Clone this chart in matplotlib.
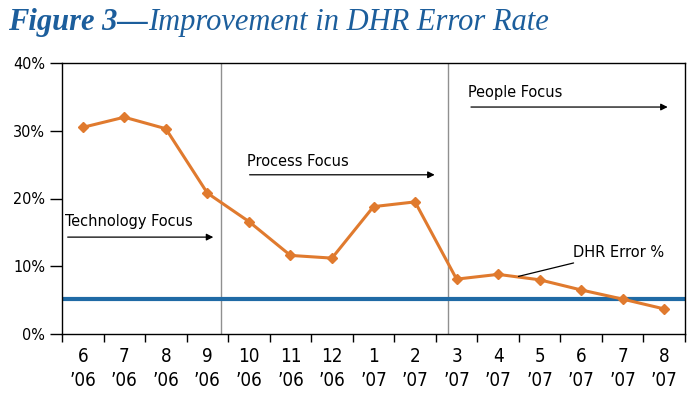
import matplotlib
matplotlib.use("Agg")
import matplotlib.pyplot as plt
from matplotlib import font_manager

months = ["6", "7", "8", "9", "10", "11", "12", "1", "2", "3", "4", "5", "6", "7", "8"]
years = ["’06"] * 7 + ["’07"] * 8
error_pct = [30.5, 32.0, 30.3, 20.8, 16.6, 11.6, 11.2, 18.8, 19.5, 8.1, 8.8, 8.0, 6.5, 5.15, 3.7]
target_pct = 5.2
yticks = [0, 10, 20, 30, 40]

orange = "#E07A2E"
blue = "#1F6AA5"
title_col = "#1C5E9C"

# condensed sans if the system has one, else Lato
cond = font_manager.FontProperties(family="DejaVu Sans", stretch="condensed")
path = font_manager.findfont(cond)
if "Condensed" in path:
    lab = dict(family="DejaVu Sans", stretch="condensed")
else:
    lab = dict(family="Lato")

fig = plt.figure(figsize=(6.91, 3.98), dpi=100)
ax = fig.add_axes([62 / 691, 64 / 398, 623 / 691, 271 / 398])

n = len(error_pct)
xs = list(range(n))
ax.axhline(target_pct, color=blue, lw=3, zorder=2)
ax.plot(xs, error_pct, color=orange, lw=2.2, marker="D", ms=5.5, zorder=3)

ax.set_xlim(-0.5, n - 0.5)
ax.set_ylim(0, 40)
ax.set_xticks([i - 0.5 for i in range(n + 1)])
ax.set_xticklabels([])
ax.set_xticks(xs, minor=True)
ax.set_xticklabels([m + "\n" + y for m, y in zip(months, years)], minor=True,
                   fontsize=13.5, linespacing=1.35, **lab)
ax.tick_params(axis="x", which="major", direction="out", length=6, width=1)
ax.tick_params(axis="x", which="minor", length=0, pad=9)
ax.set_yticks(yticks)
ax.set_yticklabels([f"{v}%" for v in yticks], fontsize=11.5, **lab)
ax.tick_params(axis="y", direction="out", length=9, width=1, pad=3)
for s in ax.spines.values():
    s.set_linewidth(1)

# phase dividers
ax.axvline(3.33, color="#909090", lw=1, zorder=1)
ax.axvline(8.8, color="#909090", lw=1, zorder=1)

arrow = dict(arrowstyle="-|>", color="black", lw=0.9, mutation_scale=10)
ax.text(-0.43, 16.6, "Technology Focus", fontsize=11.7, va="center", **lab)
ax.annotate("", xy=(3.21, 14.3), xytext=(-0.43, 14.3), arrowprops=arrow)
ax.text(3.95, 25.4, "Process Focus", fontsize=11.7, va="center", **lab)
ax.annotate("", xy=(8.54, 23.5), xytext=(3.95, 23.5), arrowprops=arrow)
ax.text(9.28, 35.6, "People Focus", fontsize=11.7, va="center", **lab)
ax.annotate("", xy=(14.15, 33.5), xytext=(9.28, 33.5), arrowprops=arrow)
ax.annotate("DHR Error %", xy=(10.49, 8.5), xytext=(11.8, 12.1), fontsize=11.7,
            va="center", arrowprops=dict(arrowstyle="-", color="black", lw=0.9,
                                         shrinkA=2, shrinkB=0), **lab)

# title in two styles
t1 = fig.text(8 / 691, 1 - 30 / 398, "Figure 3—", fontsize=22, family="Liberation Serif",
              style="italic", weight="bold", color=title_col, va="baseline")
fig.canvas.draw()
bb = t1.get_window_extent()
fig.text(bb.x1 / 691, 1 - 30 / 398, "Improvement in DHR Error Rate", fontsize=22,
         family="Liberation Serif", style="italic", color=title_col, va="baseline")

fig.savefig("out.png", dpi=100)
